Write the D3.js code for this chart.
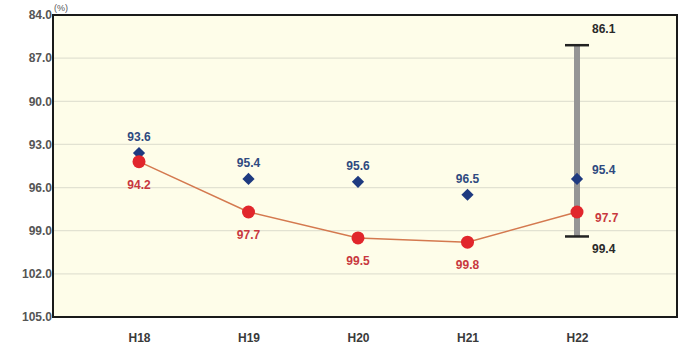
<!DOCTYPE html>
<html>
<head>
<meta charset="utf-8">
<script src="https://cdn.jsdelivr.net/npm/d3@7"></script>
<style>
  html, body { margin: 0; padding: 0; background: #ffffff; }
  svg { display: block; font-family: Arial, "Liberation Sans", sans-serif; }
</style>
</head>
<body>
<svg id="chart" width="680" height="351"></svg>
<script>
// Fiscal years
const categories = ["H18", "H19", "H20", "H21", "H22"];
// Upper series (diamonds)
const diamondValues = [93.6, 95.4, 95.6, 96.5, 95.4];
// Lower series (circles joined by a line)
const circleValues = [94.2, 97.7, 99.5, 99.8, 97.7];
// Range shown for the latest year
const rangeCategory = "H22";
const rangeLow = 86.1;
const rangeHigh = 99.4;
// Y axis ticks (scale runs downward)
const yTicks = [84.0, 87.0, 90.0, 93.0, 96.0, 99.0, 102.0, 105.0];

const svg = d3.select("#chart");
const plotLeft = 53, plotRight = 677, plotTop = 15, plotBottom = 317;

const y = d3.scaleLinear().domain([84, 105]).range([plotTop, plotBottom]);
const x = d3.scalePoint().domain(categories).range([139, 577]);

// plot background
svg.append("rect")
  .attr("x", plotLeft).attr("y", plotTop)
  .attr("width", plotRight - plotLeft).attr("height", plotBottom - plotTop)
  .attr("fill", "#fefde9");

// grid lines
svg.append("g").selectAll("line")
  .data(yTicks.slice(1, -1))
  .join("line")
  .attr("x1", plotLeft).attr("x2", plotRight)
  .attr("y1", d => y(d)).attr("y2", d => y(d))
  .attr("stroke", "#e2e2d2").attr("stroke-width", 1.3);

// y axis labels
const yAxis = d3.axisLeft(y).tickValues(yTicks).tickFormat(d3.format(".1f")).tickSize(0).tickPadding(3);
const gy = svg.append("g").attr("transform", `translate(${plotLeft},0)`).call(yAxis);
gy.select(".domain").remove();
gy.selectAll("text")
  .attr("fill", "#555")
  .style("font-size", "12px")
  .style("font-weight", "bold")
  .attr("dx", "2");

// unit label
svg.append("text")
  .attr("x", 54).attr("y", 11)
  .attr("fill", "#555").style("font-size", "9px")
  .text("(%)");

// x axis labels
const xAxis = d3.axisBottom(x).tickSize(0).tickPadding(16);
const gx = svg.append("g").attr("transform", `translate(0,${plotBottom})`).call(xAxis);
gx.select(".domain").remove();
gx.selectAll("text")
  .attr("fill", "#3a3a3a")
  .style("font-size", "12px")
  .style("font-weight", "bold");

// plot border
svg.append("rect")
  .attr("x", plotLeft).attr("y", plotTop)
  .attr("width", plotRight - plotLeft).attr("height", plotBottom - plotTop)
  .attr("fill", "none").attr("stroke", "#1a1a1a").attr("stroke-width", 2);

// range bar
const rx = x(rangeCategory);
svg.append("line")
  .attr("x1", rx).attr("x2", rx)
  .attr("y1", y(rangeLow)).attr("y2", y(rangeHigh))
  .attr("stroke", "#959595").attr("stroke-width", 6);
[rangeLow, rangeHigh].forEach(v => {
  svg.append("line")
    .attr("x1", rx - 12).attr("x2", rx + 12)
    .attr("y1", y(v)).attr("y2", y(v))
    .attr("stroke", "#222").attr("stroke-width", 2.5);
});
svg.append("text")
  .attr("x", rx + 15).attr("y", y(rangeLow) - 12)
  .attr("fill", "#2a2a2a").style("font-size", "12px").style("font-weight", "bold")
  .text(rangeLow.toFixed(1));
svg.append("text")
  .attr("x", rx + 15).attr("y", y(rangeHigh) + 17)
  .attr("fill", "#2a2a2a").style("font-size", "12px").style("font-weight", "bold")
  .text(rangeHigh.toFixed(1));

// connecting line for circles
const line = d3.line().x((d, i) => x(categories[i])).y(d => y(d));
svg.append("path")
  .datum(circleValues)
  .attr("d", line)
  .attr("fill", "none")
  .attr("stroke", "#d4794f").attr("stroke-width", 1.5);

// diamonds
svg.append("g").selectAll("path")
  .data(diamondValues)
  .join("path")
  .attr("transform", (d, i) => `translate(${x(categories[i])},${y(d)})`)
  .attr("d", d3.symbol(d3.symbolDiamond2, 95))
  .attr("fill", "#1e3a80");

// circles
svg.append("g").selectAll("circle")
  .data(circleValues)
  .join("circle")
  .attr("cx", (d, i) => x(categories[i]))
  .attr("cy", d => y(d))
  .attr("r", 6.5)
  .attr("fill", "#e1262c");

// diamond value labels
svg.append("g").selectAll("text")
  .data(diamondValues)
  .join("text")
  .attr("x", (d, i) => categories[i] === rangeCategory ? x(categories[i]) + 15 : x(categories[i]))
  .attr("y", (d, i) => categories[i] === rangeCategory ? y(d) - 5 : y(d) - 12)
  .attr("text-anchor", (d, i) => categories[i] === rangeCategory ? "start" : "middle")
  .attr("fill", "#2f4a80").style("font-size", "12px").style("font-weight", "bold")
  .text(d => d.toFixed(1));

// circle value labels
svg.append("g").selectAll("text")
  .data(circleValues)
  .join("text")
  .attr("x", (d, i) => categories[i] === rangeCategory ? x(categories[i]) + 18 : x(categories[i]))
  .attr("y", (d, i) => categories[i] === rangeCategory ? y(d) + 10 : y(d) + 27)
  .attr("text-anchor", (d, i) => categories[i] === rangeCategory ? "start" : "middle")
  .attr("fill", "#c8383e").style("font-size", "12px").style("font-weight", "bold")
  .text(d => d.toFixed(1));
</script>
</body>
</html>
